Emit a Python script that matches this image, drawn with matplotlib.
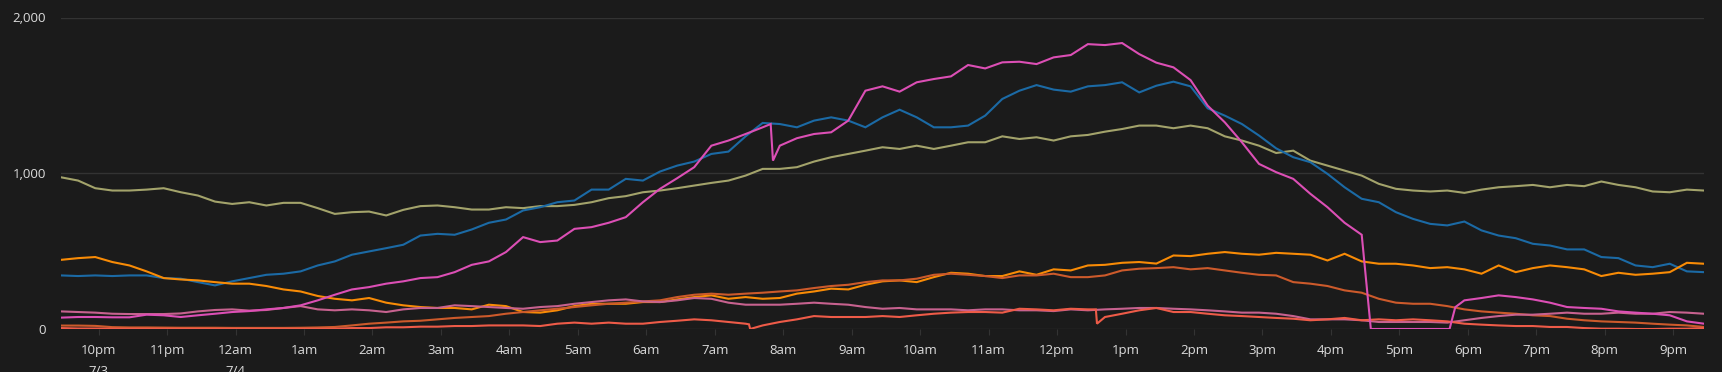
import numpy as np
import pandas as pd
import matplotlib
matplotlib.use('Agg')
from matplotlib import pyplot as plt
import matplotlib.dates as mdates

# 15 minute samples, 21:27 7/3 -> 21:27 7/4
start = '2023-07-03 21:27'
n_points = 97

olive = [974, 953, 904, 889, 889, 895, 904, 878, 857, 818, 803, 814, 793, 810, 810, 776, 739,
         750, 754, 729, 765, 789, 793, 782, 767, 767, 782, 776, 789, 789, 797, 814, 840,
         853, 878, 889, 904, 921, 938, 953, 985, 1028, 1028, 1039, 1075, 1103, 1124, 1145, 1167,
         1156, 1177, 1156, 1177, 1199, 1199, 1237, 1220, 1231, 1210, 1237, 1246, 1267, 1284, 1306, 1306,
         1289, 1306, 1289, 1237, 1210, 1177, 1130, 1145, 1081, 1049, 1017, 985, 932, 900, 889, 883,
         889, 874, 895, 910, 917, 925, 910, 925, 917, 947, 925, 910, 883, 878, 895, 889]

blue = [344, 340, 344, 340, 344, 344, 327, 323, 301, 280, 306, 327, 348, 355, 370, 408, 434,
        477, 498, 519, 541, 600, 611, 605, 639, 682, 703, 761, 782, 814, 825, 895, 895,
        964, 953, 1011, 1049, 1075, 1124, 1139, 1237, 1323, 1316, 1295, 1338, 1359, 1338, 1295, 1359,
        1408, 1359, 1295, 1295, 1306, 1370, 1477, 1530, 1566, 1537, 1524, 1558, 1566, 1584, 1519, 1562,
        1588, 1558, 1417, 1370, 1316, 1242, 1160, 1103, 1071, 996, 910, 836, 814, 750, 707, 675,
        665, 690, 633, 600, 583, 547, 536, 511, 511, 462, 455, 408, 397, 419, 370, 365]

magenta = [73, 77, 77, 75, 75, 92, 88, 77, 88, 98, 109, 115, 126, 135, 152, 184, 220,
           254, 269, 291, 306, 327, 333, 365, 412, 434, 494, 590, 558, 568, 643, 654, 682,
           718, 814, 900, 968, 1039, 1177, 1210, 1252, 1295, 1177, 1225, 1252, 1263, 1338, 1530, 1558,
           1524, 1584, 1605, 1622, 1695, 1673, 1712, 1716, 1701, 1744, 1759, 1829, 1823, 1836, 1765, 1710,
           1680, 1598, 1434, 1327, 1199, 1060, 1007, 964, 868, 782, 682, 605, 0, 0, 0, 0,
           0, 184, 199, 216, 205, 190, 169, 141, 135, 130, 113, 105, 98, 88, 49, 34]
magenta_extra_t = ['2023-07-04 07:49', '2023-07-04 07:51', '2023-07-04 16:35',
                   '2023-07-04 17:44', '2023-07-04 17:49']
magenta_extra_v = [1316, 1081, 0, 0, 140]

orange = [444, 455, 462, 430, 408, 370, 327, 318, 312, 301, 291, 291, 276, 254, 241, 212, 194,
          184, 199, 169, 152, 141, 135, 135, 126, 156, 147, 109, 105, 120, 147, 162, 162,
          162, 173, 173, 190, 205, 216, 194, 205, 194, 199, 227, 241, 259, 254, 284, 306,
          312, 301, 333, 361, 355, 340, 340, 370, 348, 383, 376, 408, 412, 425, 430, 420,
          472, 468, 483, 494, 483, 477, 489, 483, 477, 440, 483, 434, 419, 419, 408, 391,
          397, 383, 355, 408, 365, 391, 408, 397, 383, 340, 361, 348, 355, 365, 425, 419]

dark_orange = [22, 22, 20, 12, 10, 10, 9, 8, 8, 8, 7, 7, 7, 7, 8, 10, 13,
               23, 34, 41, 49, 53, 62, 71, 77, 83, 98, 109, 120, 130, 141, 152, 162,
               169, 177, 184, 205, 220, 227, 220, 227, 233, 241, 248, 263, 276, 284, 301, 312,
               312, 323, 348, 355, 348, 340, 327, 344, 344, 355, 333, 333, 344, 376, 387, 391,
               397, 383, 391, 376, 361, 348, 344, 301, 291, 276, 248, 233, 194, 169, 162, 162,
               147, 126, 113, 105, 98, 88, 83, 66, 56, 49, 45, 41, 34, 28, 23, 13]

mauve = [113, 109, 105, 98, 96, 96, 96, 100, 113, 122, 126, 118, 122, 135, 147, 126, 120,
         126, 120, 109, 126, 135, 135, 152, 147, 141, 135, 130, 141, 147, 162, 173, 184,
         190, 177, 173, 184, 199, 194, 169, 156, 156, 156, 162, 169, 162, 156, 141, 130,
         135, 126, 126, 126, 120, 126, 126, 120, 120, 115, 126, 120, 126, 130, 135, 135,
         130, 126, 120, 113, 105, 105, 98, 83, 62, 62, 62, 56, 45, 45, 45, 45,
         41, 56, 71, 83, 92, 92, 98, 105, 98, 98, 105, 98, 98, 109, 105, 98]

coral = [6, 3, 3, 2, 2, 2, 2, 2, 2, 2, 2, 2, 2, 2, 2, 2, 2,
         6, 6, 11, 11, 15, 15, 19, 19, 23, 23, 23, 19, 34, 41, 34, 41,
         34, 34, 45, 53, 62, 56, 45, 34, 23, 45, 62, 83, 77, 77, 77, 83,
         77, 88, 98, 105, 109, 109, 105, 130, 126, 120, 130, 126, 77, 98, 120, 135,
         109, 109, 98, 88, 83, 77, 71, 66, 56, 62, 71, 56, 62, 56, 62, 56,
         49, 34, 28, 23, 19, 19, 13, 13, 6, 2, 2, 0, 0, 2, 2, 6]
coral_extra_t = ['2023-07-04 07:30', '2023-07-04 07:31', '2023-07-04 12:34', '2023-07-04 12:35']
coral_extra_v = [30, 0, 126, 34]

tick_times = pd.date_range('2023-07-03 22:00', '2023-07-04 21:00', freq='1h')
tick_labels = ['10pm\n7/3', '11pm', '12am\n7/4', '1am', '2am', '3am', '4am', '5am', '6am',
               '7am', '8am', '9am', '10am', '11am', '12pm', '1pm', '2pm', '3pm', '4pm',
               '5pm', '6pm', '7pm', '8pm', '9pm']

bg = '#1b1b1b'
grid_col = '#333333'
text_col = '#dcdcdc'

times = pd.date_range(start, periods=n_points, freq='15min')


def with_extra(values, extra_t=None, extra_v=None):
    s = pd.Series(values, index=times, dtype=float)
    if extra_t:
        s = pd.concat([s, pd.Series(extra_v, index=pd.to_datetime(extra_t), dtype=float)])
        s = s.sort_index()
    return s


series = [
    (with_extra(olive), '#a3a36b'),
    (with_extra(blue), '#1b6aa5'),
    (with_extra(orange), '#f88b06'),
    (with_extra(dark_orange), '#cc5a2b'),
    (with_extra(mauve), '#c7628f'),
    (with_extra(coral, coral_extra_t, coral_extra_v), '#ee5b48'),
    (with_extra(magenta, magenta_extra_t, magenta_extra_v), '#dc4fb5'),
]

plt.rcParams['font.family'] = ['Open Sans', 'DejaVu Sans']

fig = plt.figure(figsize=(17.22, 3.72), dpi=100, facecolor=bg)
ax = fig.add_axes([61 / 1722, 43 / 372, (1704 - 61) / 1722, (329.5 - 18) / 372])
ax.set_facecolor(bg)

for s, col in series:
    ax.plot(s.index, s.values, color=col, lw=1.5, solid_joinstyle='miter')

ax.set_ylim(0, 2000)
ax.set_xlim(pd.Timestamp(start), times[-1])
ax.set_yticks([0, 1000, 2000])
ax.set_yticklabels(['0', '1,000', '2,000'])
ax.set_xticks(tick_times)
ax.set_xticklabels(tick_labels)
for lab in ax.get_xticklabels():
    lab.set_linespacing(1.75)
ax.yaxis.grid(True, color=grid_col, lw=1)
ax.set_axisbelow(True)
for sp in ax.spines.values():
    sp.set_visible(False)
ax.tick_params(axis='y', length=0, pad=11, labelsize=9.5, labelcolor=text_col)
ax.tick_params(axis='x', length=4, color=grid_col, pad=7, labelsize=9.5, labelcolor=text_col)

fig.savefig('out.png', dpi=100, facecolor=bg)
